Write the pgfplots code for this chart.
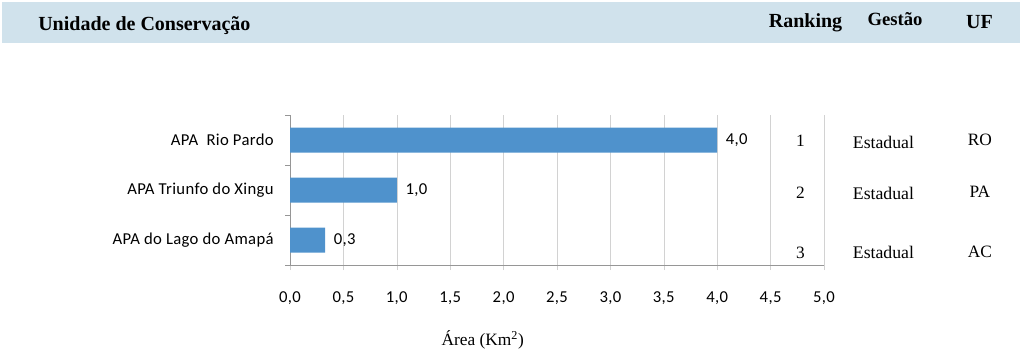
\documentclass[border=0pt]{standalone}
\usepackage{pgfplots}
\pgfplotsset{compat=1.18}
\usepackage{fontspec}
\setmainfont{Liberation Serif}
\newfontfamily\calfont[LetterSpace=2]{Carlito}
\definecolor{headbg}{RGB}{208,226,236}
\definecolor{barblue}{RGB}{79,146,204}
\definecolor{gridgrey}{RGB}{210,210,210}
\definecolor{axgrey}{RGB}{150,150,150}
\begin{document}
\begin{tikzpicture}[x=0.75pt,y=0.75pt]
\path (0,0) rectangle (1024,-357);
\fill[headbg] (2,-2) rectangle (1020,-43);
\node[anchor=base west,inner sep=0pt,font=\fontsize{15}{17}\selectfont\bfseries] at (38,-31) {Unidade de Conservação};
\node[anchor=base,inner sep=0pt,font=\fontsize{15}{17}\selectfont\bfseries] at (805.5,-27) {Ranking};
\node[anchor=base,inner sep=0pt,font=\fontsize{14}{16}\selectfont\bfseries] at (895,-25) {Gestão};
\node[anchor=base,inner sep=0pt,font=\fontsize{15}{17}\selectfont\bfseries] at (979.5,-28) {UF};
\begin{axis}[
  at={(217.5pt,-198.75pt)}, anchor=south west,
  scale only axis, width=400.5pt, height=112.5pt,
  xmin=0, xmax=5, ymin=-0.5, ymax=2.5,
  axis lines=left, axis line style={-, draw=axgrey},
  xtick={0,0.5,...,5.0},
  xmajorgrids, grid style={draw=gridgrey},
  tick align=outside, major tick length=3.75pt,
  x tick style={draw=gridgrey},
  xticklabel style={font=\calfont\fontsize{12.5}{14}\selectfont, yshift=-13pt,
    /pgf/number format/.cd, fixed, fixed zerofill, precision=1, use comma, assume math mode=true},
  ytick={0,1,2},
  yticklabels={APA do Lago do Amapá, APA Triunfo do Xingu, APA\ \ Rio Pardo},
  yticklabel style={font=\calfont\fontsize{12.5}{14}\selectfont, xshift=-5pt},
  y tick style={draw=none},
  extra y ticks={-0.5,0.5,1.5,2.5},
  extra y tick labels={},
  extra y tick style={y tick style={draw=axgrey}, major tick length=3.5pt},
  xlabel={Área (Km\textsuperscript{2})},
  xlabel style={at={(axis description cs:0.361,-0.5)}, anchor=center, font=\fontsize{13}{15}\selectfont},
  clip=false,
  xbar, bar width=18.75pt,
  nodes near coords,
  nodes near coords style={font=\calfont\fontsize{12.5}{14}\selectfont, anchor=west, xshift=3pt,
    /pgf/number format/.cd, fixed, fixed zerofill, precision=1, use comma, assume math mode=true},
]
\addplot[fill=barblue, draw=none] coordinates {(0.33,0) (1.0,1) (4.0,2)};
\node[font=\fontsize{13}{15}\selectfont] at (axis cs:4.78,1.98) {1};
\node[font=\fontsize{13}{15}\selectfont] at (axis cs:4.78,0.95) {2};
\node[font=\fontsize{13}{15}\selectfont] at (axis cs:4.78,-0.25) {3};
\node[font=\fontsize{13.3}{15}\selectfont] at (axis cs:5.557,1.96) {Estadual};
\node[font=\fontsize{13.3}{15}\selectfont] at (axis cs:5.557,0.94) {Estadual};
\node[font=\fontsize{13.3}{15}\selectfont] at (axis cs:5.557,-0.25) {Estadual};
\node[font=\fontsize{13}{15}\selectfont] at (axis cs:6.46,2.01) {RO};
\node[font=\fontsize{13}{15}\selectfont] at (axis cs:6.46,0.97) {PA};
\node[font=\fontsize{13}{15}\selectfont] at (axis cs:6.46,-0.24) {AC};
\end{axis}
\end{tikzpicture}
\end{document}
